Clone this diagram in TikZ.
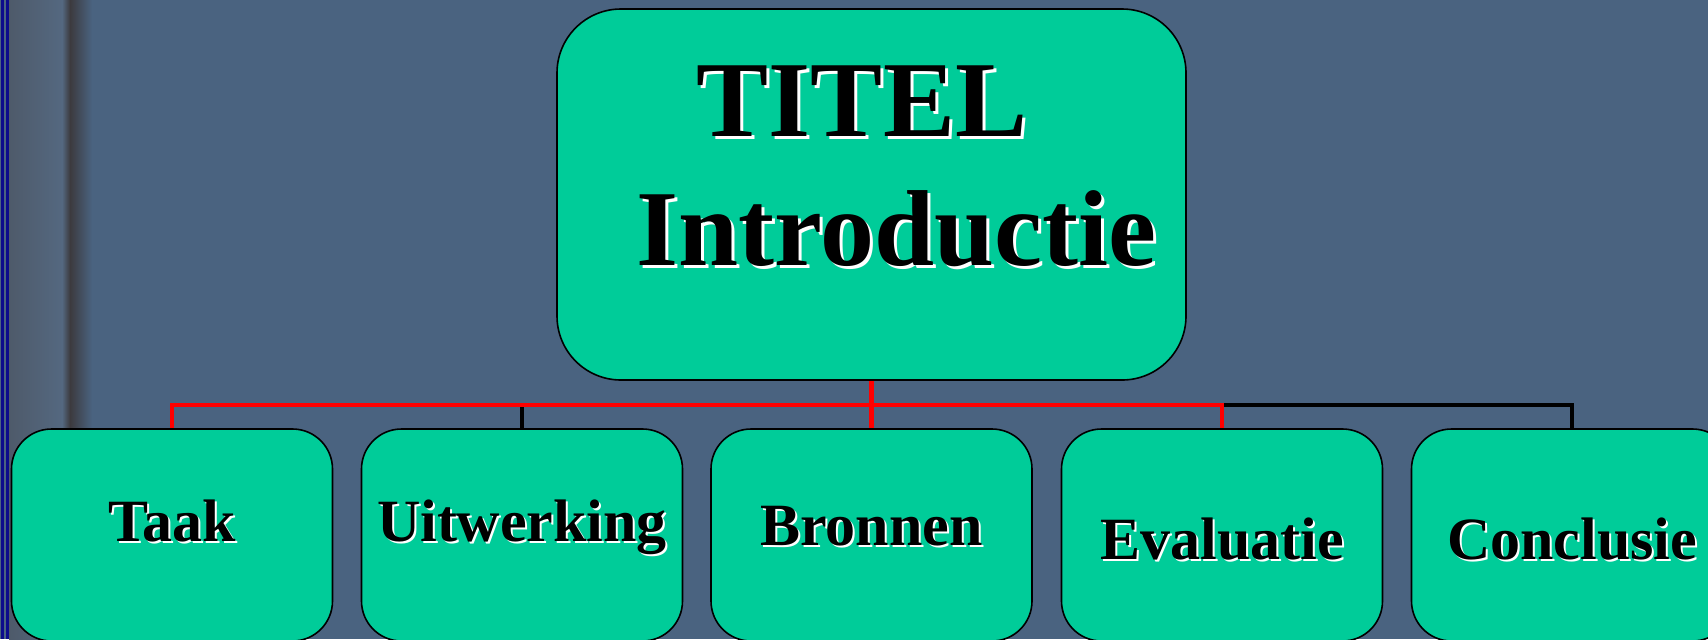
\documentclass[tikz,border=0pt]{standalone}
\usepackage{fontspec}
\setmainfont{Liberation Serif}
\usepackage{tikz}
\usetikzlibrary{calc, positioning}

\definecolor{achtergrond}{RGB}{74,99,128}
\definecolor{groen}{RGB}{0,204,153}
\definecolor{rand}{RGB}{12,12,140}
\definecolor{strook}{RGB}{60,58,62}
\definecolor{grijsblauw}{RGB}{78,90,106}
\definecolor{lichtblauw}{RGB}{84,104,128}
\definecolor{lijnrood}{RGB}{255,0,0}

% text with a white shadow behind it
\newcommand{\schaduw}[2]{\makebox[0pt][l]{\hspace{#1}\raisebox{-#1}{\color{white}#2}}#2}

\tikzset{
  hoofdblok/.style={draw=black, line width=0.8pt, fill=groen, rounded corners=32pt,
    minimum width=314.5pt, minimum height=185.5pt, inner sep=0pt},
  blok/.style={draw=black, line width=0.8pt, fill=groen, rounded corners=20pt,
    minimum width=160.5pt, minimum height=106pt, inner sep=0pt},
  grotetekst/.style={anchor=base, inner sep=0pt, font=\fontsize{54}{54}\selectfont\bfseries},
  kleinetekst/.style={anchor=base, inner sep=0pt, font=\fontsize{30}{30}\selectfont\bfseries},
  rood/.style={draw=lijnrood, line width=2.3pt},
  zwart/.style={draw=black, line width=2.3pt}
}

\begin{document}
\begin{tikzpicture}[x=0.5pt, y=-0.5pt]
    % background and left border
    \useasboundingbox (0,0) rectangle (1708,639);
    \clip (0,0) rectangle (1708,639);
    \fill[achtergrond] (0,0) rectangle (1708,639);
    \shade[left color=grijsblauw, right color=lichtblauw] (9,0) rectangle (62,639);
    \shade[left color=lichtblauw, right color=strook] (62,0) rectangle (70,639);
    \shade[left color=strook, right color=achtergrond] (70,0) rectangle (92,639);
    \fill[rand] (1,0) rectangle (4,639);
    \fill[rand] (6,0) rectangle (9,639);

    % boxes
    \node[hoofdblok] (top) at (871.5,194.5) {};
    \node[blok] (taak) at (172,535) {};
    \node[blok] (uitw) at (522,535) {};
    \node[blok] (bron) at (871.5,535) {};
    \node[blok] (eval) at (1222,535) {};
    \node[blok] (concl) at (1572,535) {};

    % texts
    \node[grotetekst] (titel) at (862,136) {\schaduw{1.5pt}{TITEL}};
    \node[grotetekst] (intro) at (896,265) {\schaduw{1.5pt}{Introductie}};
    \node[kleinetekst] (taaktekst) at (172,541) {\schaduw{1pt}{Taak}};
    \node[kleinetekst] (uitwtekst) at (522,541) {\schaduw{1pt}{Uitwerking}};
    \node[kleinetekst] (brontekst) at (871.5,545) {\schaduw{1pt}{Bronnen}};
    \node[kleinetekst] (evaltekst) at (1222,559) {\schaduw{1pt}{Evaluatie}};
    \node[kleinetekst] (concltekst) at (1572,559) {\schaduw{1pt}{Conclusie}};

    % connectors
    \coordinate (knik) at (871.5,405);
    \draw[zwart] (uitw.north) -- (uitw.north |- knik);
    \draw[zwart] (eval.north |- knik) -| (concl.north);
    \draw[rood] (top.south) -- (bron.north);
    \draw[rood] (taak.north) |- (knik) -| (eval.north);
\end{tikzpicture}
\end{document}
